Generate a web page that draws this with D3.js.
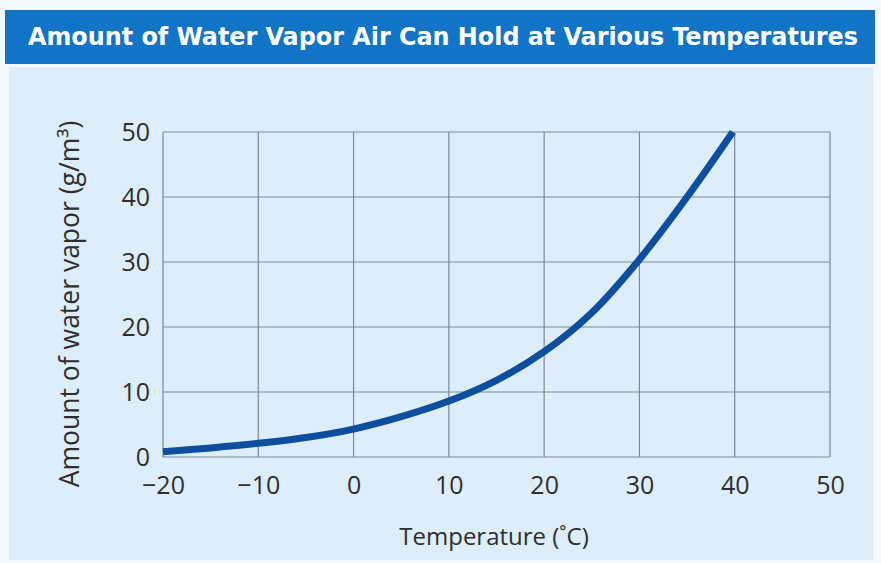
<!DOCTYPE html>
<html>
<head>
<meta charset="utf-8">
<script src="https://cdn.jsdelivr.net/npm/d3@7"></script>
<style>
html,body{margin:0;padding:0;background:#f3f9fd;}
svg{display:block;}
</style>
</head>
<body>
<svg id="chart" width="881" height="563"></svg>
<script>
const title = "Amount of Water Vapor Air Can Hold at Various Temperatures";
const xTitle = "Temperature (\u02DAC)";
const yTitle = "Amount of water vapor (g/m\u00B3)";
const xTicks = [-20, -10, 0, 10, 20, 30, 40, 50];
const yTicks = [0, 10, 20, 30, 40, 50];
const temperature = [-20, -15, -10, -5, 0, 5, 10, 15, 20, 25, 30, 35, 39.8];
const waterVapor  = [0.8, 1.4, 2.1, 3.0, 4.3, 6.2, 8.6, 11.8, 16.2, 22.2, 30.4, 40.0, 50.0];

const svg = d3.select("#chart");
const W = 881, H = 563;
const plot = {left: 163, right: 830, top: 132, bottom: 457};

svg.append("rect").attr("width", W).attr("height", H).attr("fill", "#f3f9fd");
// title bar
svg.append("rect").attr("x", 5).attr("y", 10).attr("width", 870).attr("height", 54).attr("fill", "#1274c7");
svg.append("text").attr("x", 443).attr("y", 45)
  .attr("text-anchor", "middle")
  .attr("font-family", "'DejaVu Sans Condensed', 'DejaVu Sans', sans-serif")
  .attr("font-weight", "bold").attr("font-size", 25).attr("fill", "#ffffff")
  .attr("textLength", 830).attr("lengthAdjust", "spacingAndGlyphs")
  .text(title);
// panel
svg.append("rect").attr("x", 9).attr("y", 67).attr("width", 864).attr("height", 493).attr("fill", "#ddeefa");

const x = d3.scaleLinear().domain([-20, 50]).range([plot.left, plot.right]);
const y = d3.scaleLinear().domain([0, 50]).range([plot.bottom, plot.top]);

const grid = svg.append("g");
grid.selectAll("line.v").data(xTicks).join("line")
  .attr("x1", d => x(d)).attr("x2", d => x(d))
  .attr("y1", plot.top).attr("y2", plot.bottom)
  .attr("stroke", "#7b8896").attr("stroke-width", 1.2);
grid.selectAll("line.h").data(yTicks).join("line")
  .attr("y1", d => y(d)).attr("y2", d => y(d))
  .attr("x1", plot.left).attr("x2", plot.right)
  .attr("stroke", "#7b8896").attr("stroke-width", 1.2);

const font = "'Open Sans', 'Noto Sans', sans-serif";
// y axis labels
const yAxis = d3.axisLeft(y).tickValues(yTicks).tickSize(0).tickPadding(13);
const ya = svg.append("g").attr("transform", `translate(${plot.left},0)`).call(yAxis);
ya.select(".domain").remove();
ya.selectAll("text").attr("font-family", font).attr("font-size", 25).attr("fill", "#2e2e2e");

// x axis labels
const xAxis = d3.axisBottom(x).tickValues(xTicks).tickSize(0).tickPadding(19)
  .tickFormat(d => d < 0 ? "\u2212" + Math.abs(d) : d);
const xa = svg.append("g").attr("transform", `translate(0,${plot.bottom})`).call(xAxis);
xa.select(".domain").remove();
xa.selectAll("text").attr("font-family", font).attr("font-size", 25).attr("fill", "#2e2e2e");

// axis titles
svg.append("text").attr("x", 494).attr("y", 545).attr("text-anchor", "middle")
  .attr("font-family", font).attr("font-size", 24).attr("fill", "#2e2e2e").text(xTitle);
svg.append("text").attr("transform", "translate(79,304) rotate(-90)").attr("text-anchor", "middle")
  .attr("font-family", font).attr("font-size", 26.5).attr("fill", "#2e2e2e").text(yTitle);

// curve
const pts = temperature.map((t, i) => [t, waterVapor[i]]);
const line = d3.line().x(d => x(d[0])).y(d => y(d[1])).curve(d3.curveCatmullRom.alpha(0.5));
svg.append("path").datum(pts).attr("d", line)
  .attr("fill", "none").attr("stroke", "#0d4f9e").attr("stroke-width", 7).attr("stroke-linecap", "butt");
</script>
</body>
</html>
